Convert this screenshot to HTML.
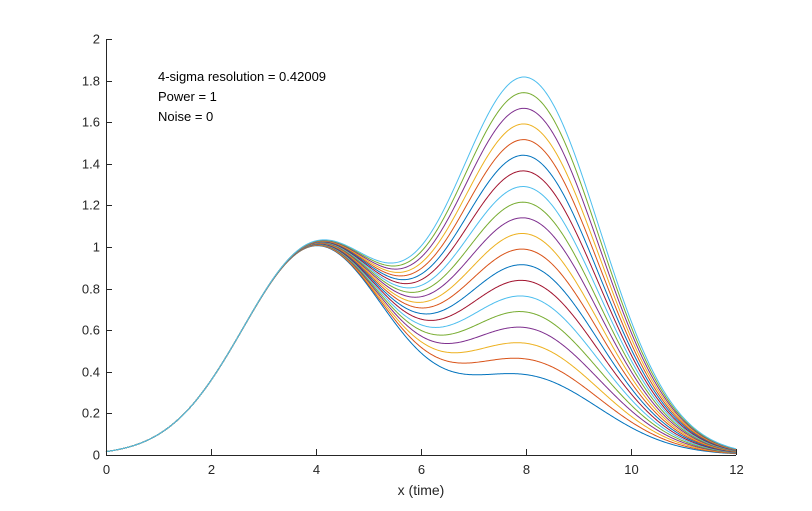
<!DOCTYPE html>
<html><head><meta charset="utf-8"><style>
html,body{margin:0;padding:0;background:#fff;}
svg{display:block;font-family:"Liberation Sans",Arial,sans-serif;}
</style></head><body>
<svg id="s" width="812" height="511" viewBox="0 0 812 511" xmlns="http://www.w3.org/2000/svg">
<rect width="812" height="511" fill="#fff"/>
<g id="curves" fill="none" stroke-width="1"></g>
<g id="axes" stroke="#262626" stroke-width="1" fill="none">
<line x1="106.5" y1="39" x2="106.5" y2="455.5"/>
<line x1="106" y1="455.5" x2="736" y2="455.5"/>
</g>
<g id="ticks" font-size="13" fill="#262626"></g>
<text x="421" y="495" font-size="14" fill="#262626" text-anchor="middle">x (time)</text>
<g font-size="13" fill="#000">
<text x="158" y="81">4-sigma resolution = 0.42009</text>
<text x="158" y="101">Power = 1</text>
<text x="158" y="121">Noise = 0</text>
</g>
</svg>
<script>
var X0=106,XS=52.5,Y0=455,YS=208;
var cols=["#0072BD","#D95319","#EDB120","#7E2F8E","#77AC30","#4DBEEE","#A2142F"];
var g=document.getElementById("curves"),ns="http://www.w3.org/2000/svg";
var s2=3.9;
for(var k=0;k<20;k++){
 var a=0.37+k*(1.80-0.37)/19,d="";
 for(var i=0;i<=600;i++){
  var x=i*12/600;
  var y=Math.exp(-(x-4)*(x-4)/s2)+a*Math.exp(-(x-8)*(x-8)/s2);
  d+=(i?"L":"M")+(X0+x*XS).toFixed(2)+" "+(Y0-y*YS).toFixed(2);
 }
 var p=document.createElementNS(ns,"path");
 p.setAttribute("d",d);p.setAttribute("stroke",cols[k%7]);g.appendChild(p);
}
var t=document.getElementById("ticks"),ax=document.getElementById("axes");
function ln(x1,y1,x2,y2){var l=document.createElementNS(ns,"line");l.setAttribute("x1",x1);l.setAttribute("y1",y1);l.setAttribute("x2",x2);l.setAttribute("y2",y2);ax.appendChild(l);}
function tx(x,y,s,an){var e=document.createElementNS(ns,"text");e.setAttribute("x",x);e.setAttribute("y",y);e.setAttribute("text-anchor",an);e.textContent=s;t.appendChild(e);}
for(var v=0;v<=12;v+=2){var px=Math.round(X0+v*XS)+0.5;ln(px,455,px,449);tx(px,474,String(v),"middle");}
for(var j=0;j<=10;j++){var v2=j*0.2,py=Math.round(Y0-v2*YS)+0.5;ln(106,py,112,py);tx(100,py+4,(Math.round(v2*10)/10).toString(),"end");}
</script>
</body></html>
